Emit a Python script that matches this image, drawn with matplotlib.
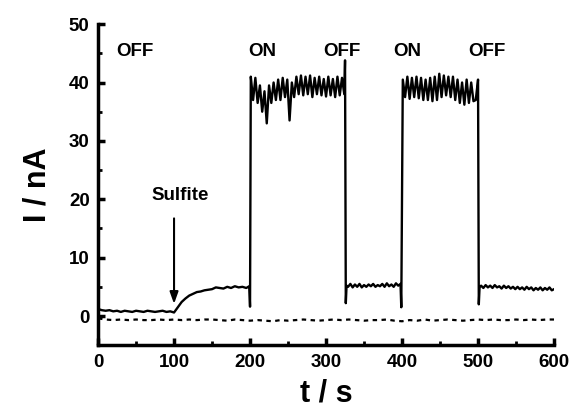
import numpy as np
import matplotlib.pyplot as plt
from matplotlib.ticker import MultipleLocator

plt.rcParams['font.family'] = ['Liberation Sans', 'DejaVu Sans']
plt.rcParams['font.weight'] = 'bold'

# ---- data (t in s, I in nA) ----
# baseline + sulfite addition, 0-195 s
t_off1 = np.arange(0, 200, 5)
i_off1 = [1.2, 1.0, 0.9, 1.0, 0.8, 0.9, 0.7, 0.9, 0.8, 0.7,
          0.9, 0.8, 0.7, 0.9, 0.8, 0.7, 0.8, 0.9, 0.7, 0.8,
          0.6, 1.5, 2.4, 3.0, 3.5, 3.8, 4.1, 4.2, 4.4, 4.5,
          4.6, 4.9, 4.8, 4.7, 5.0, 4.8, 5.1, 4.9, 5.0, 4.8]
t_sw1 = [199, 200]
i_sw1 = [5.1, 1.6]

# light ON #1
t_on1 = np.arange(201, 325, 3)
i_on1 = [41.0, 37.0, 40.8, 36.5, 39.5, 35.0, 38.5, 33.0, 39.5, 36.5,
         40.0, 37.0, 40.5, 37.0, 40.8, 37.5, 40.5, 33.5, 40.0, 37.5,
         41.0, 38.0, 41.2, 37.8, 41.0, 38.0, 41.2, 37.5, 40.8, 38.0,
         41.0, 37.8, 40.6, 37.6, 41.0, 37.8, 40.6, 37.5, 41.0, 37.8,
         40.8, 38.0]
t_sw2 = [325, 326, 327]
i_sw2 = [43.8, 2.2, 5.2]

# light OFF #2
t_off2 = np.arange(329, 398, 3)
i_off2 = [5.0, 5.5, 4.9, 5.4, 5.0, 5.5, 4.9, 5.3, 5.0, 5.4, 5.1, 5.5,
          5.0, 5.3, 5.1, 5.5, 5.0, 5.6, 5.1, 5.4, 5.0, 5.6, 5.2]
t_sw3 = [398, 399]
i_sw3 = [5.5, 1.5]

# light ON #2
t_on2 = np.arange(401, 501, 3)
i_on2 = [40.5, 37.5, 41.0, 37.2, 40.8, 37.5, 41.0, 37.3, 40.8, 37.0,
         40.5, 37.0, 40.8, 36.8, 41.0, 37.0, 41.5, 37.5, 41.2, 37.8,
         41.0, 37.5, 41.0, 37.0, 40.5, 36.5, 40.0, 36.2, 40.5, 36.5,
         40.0, 36.8, 37.0, 40.5]
t_sw4 = [501, 502]
i_sw4 = [2.0, 4.9]

# light OFF #3
t_off3 = np.arange(504, 601, 3)
i_off3 = [5.2, 4.8, 5.3, 4.9, 5.2, 4.8, 5.3, 4.9, 5.1, 4.7,
          5.2, 4.8, 5.1, 4.7, 5.0, 4.6, 5.0, 4.6, 4.9, 4.5,
          5.0, 4.6, 4.9, 4.4, 4.8, 4.5, 4.9, 4.4, 4.8, 4.5,
          4.9, 4.4, 4.6]

# control trace (dotted)
t_blank = np.arange(0, 601, 10)
i_blank = [-0.4, -0.6, -0.7, -0.6, -0.7, -0.6, -0.7, -0.7, -0.6, -0.7,
           -0.6, -0.7, -0.6, -0.7, -0.6, -0.6, -0.7, -0.8, -0.6, -0.7,
           -0.8, -0.7, -0.8, -0.9, -0.7, -0.8, -0.7, -0.6, -0.7, -0.8,
           -0.7, -0.6, -0.7, -0.6, -0.7, -0.8, -0.7, -0.7, -0.6, -0.8,
           -0.9, -0.7, -0.8, -0.6, -0.8, -0.7, -0.6, -0.7, -0.8, -0.7,
           -0.6, -0.7, -0.6, -0.7, -0.7, -0.6, -0.7, -0.6, -0.7, -0.6,
           -0.6]

labels = ["OFF", "ON", "OFF", "ON", "OFF"]
label_t = [48, 216, 321, 407, 512]
label_i = 43.8

t = np.concatenate([t_off1, t_sw1, t_on1, t_sw2, t_off2, t_sw3, t_on2, t_sw4, t_off3])
I = np.concatenate([i_off1, i_sw1, i_on1, i_sw2, i_off2, i_sw3, i_on2, i_sw4, i_off3])

fig = plt.figure(figsize=(5.70, 4.09), dpi=100)
ax = fig.add_axes([0.172, 0.156, 0.800, 0.785])

ax.plot(t, I, color='black', lw=1.7)
ax.plot(t_blank, i_blank, color='black', lw=1.6, ls=(0, (2, 2)))

for lab, x in zip(labels, label_t):
    ax.text(x, label_i, lab, ha='center', va='bottom', fontsize=13.5, fontweight='bold')

ax.text(108, 19.2, "Sulfite", ha='center', va='bottom', fontsize=13.5, fontweight='bold')
ax.annotate("", xy=(100, 1.6), xytext=(100, 17.2),
            arrowprops=dict(arrowstyle='-|>,head_length=0.7,head_width=0.25',
                            color='black', lw=1.5))

ax.set_xlim(0, 600)
ax.set_ylim(-5, 50)
ax.xaxis.set_major_locator(MultipleLocator(100))
ax.xaxis.set_minor_locator(MultipleLocator(50))
ax.yaxis.set_major_locator(MultipleLocator(10))
ax.yaxis.set_minor_locator(MultipleLocator(5))

for s in ['top', 'right']:
    ax.spines[s].set_visible(False)
for s in ['left', 'bottom']:
    ax.spines[s].set_linewidth(2.5)

ax.tick_params(which='major', direction='in', length=5, width=2.5, labelsize=13.5, pad=6)
ax.tick_params(which='minor', direction='in', length=3, width=2.0)
for lab in ax.get_xticklabels() + ax.get_yticklabels():
    lab.set_fontweight('bold')

ax.set_xlabel("t / s", fontsize=22, fontweight='bold', labelpad=6)
ax.set_ylabel("I / nA", fontsize=22, fontweight='bold', labelpad=12)

fig.savefig("out.png", dpi=100)
